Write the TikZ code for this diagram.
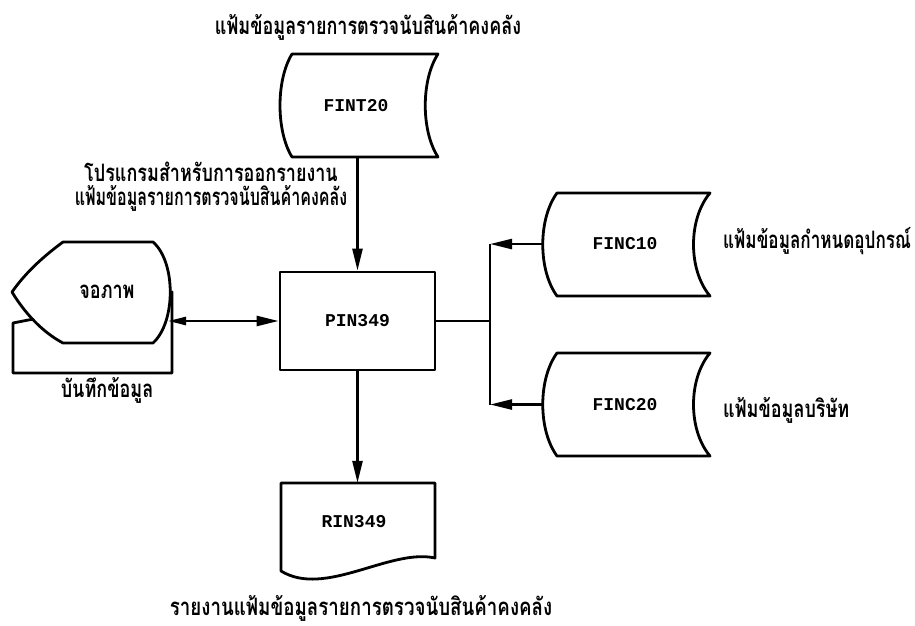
\documentclass[tikz,border=0pt]{standalone}
\usepackage{fontspec}
\usepackage{graphicx}
\newfontfamily\thaifont[Script=Thai, FakeStretch=0.75]{Loma}
\newfontfamily\codefont{Liberation Mono}
\usetikzlibrary{arrows.meta}
\newcommand\hsq[2]{\scalebox{#1}[1]{#2}}
\begin{document}
\begin{tikzpicture}[x=1pt,y=-1pt,
  shp/.style={draw=black, line width=2.8pt, line join=round},
  conn/.style={draw=black, line width=2.5pt},
  lbl/.style={font=\thaifont\bfseries\fontsize{24}{24}\selectfont, inner sep=0pt},
  code/.style={font=\codefont\bfseries\fontsize{18}{20}\selectfont, inner sep=0pt},
  tipB/.tip={Triangle[length=22pt,width=10pt]},
  tipS/.tip={Triangle[length=18pt,width=8pt]}]
\useasboundingbox[fill=white] (0,0) rectangle (915,626);

% FINT20 (stored data)
\draw[shp] (292,54) -- (438,54) .. controls (421,80) and (421,131) .. (438,157)
  -- (292,157) .. controls (276,131) and (276,80) .. (292,54) -- cycle;
\node[code, minimum height=103pt] (fint) at (356,105.5) {FINT20};

% PIN349 (process)
\node[shp, code, minimum width=155pt, minimum height=98pt] (pin) at (357.5,321) {PIN349};

% RIN349 (document)
\draw[shp] (281,483) -- (435,483) -- (435,558) .. controls (390,548) and (325,598) .. (281,571) -- cycle;
\node[code, minimum height=78pt] (rin) at (354,522) {RIN349};

% FINC10, FINC20 (stored data)
\draw[shp] (557,193) -- (710,193) .. controls (688,219) and (688,270) .. (710,296)
  -- (557,296) .. controls (538,270) and (538,219) .. (557,193) -- cycle;
\node[code, minimum width=164pt, minimum height=103pt] (fa) at (625,244) {FINC10};
\draw[shp] (557,353) -- (710,353) .. controls (688,379) and (688,430) .. (710,456)
  -- (557,456) .. controls (538,430) and (538,379) .. (557,353) -- cycle;
\node[code, minimum width=164pt, minimum height=103pt] (fb) at (625,404.5) {FINC20};

% Manual input behind display
\draw[shp, fill=white] (13,323) -- (172,292) -- (172,373) -- (13,373) -- cycle;
\coordinate (man) at (92,348);
% Display
\draw[shp, fill=white] (63,242) -- (153,242) .. controls (176,262) and (176,322) .. (153,343)
  -- (63,343) .. controls (42,332) and (24,312) .. (12,292)
  .. controls (26,272) and (44,256) .. (63,242) -- cycle;
\node[lbl] (disp) at (107,292) {จอภาพ};
\coordinate (dispR) at (168,321);

% connectors
\draw[conn, -{tipB}] (pin.north |- fint.south) -- (pin.north);
\draw[conn, -{tipB}] (pin.south) -- (pin.south |- rin.north);
\draw[conn, {tipS}-{tipB}] (dispR) -- (pin.west);
\coordinate (jn) at (490,321);
\draw[conn] (pin.east) -- (jn);
\draw[conn] (jn |- fa.west) -- (jn |- fb.west);
\draw[conn, -{tipB}] (fa.west) -- (jn |- fa.west);
\draw[conn, -{tipB}] (fb.west) -- (jn |- fb.west);

% labels
\node[lbl] (t1) at (368,27) {แฟ้มข้อมูลรายการตรวจนับสินค้าคงคลัง};
\node[lbl, align=center] (t2) at (211,187) {โปรแกรมสำหรับการออกรายงาน\\\hsq{0.89}{แฟ้มข้อมูลรายการตรวจนับสินค้าคงคลัง}};
\node[lbl] (t3) at (107,390) {บันทึกข้อมูล};
\node[lbl, anchor=west] (t4) at (723,241) {\hsq{0.95}{แฟ้มข้อมูลกำหนดอุปกรณ์}};
\node[lbl, anchor=west] (t5) at (723,410) {แฟ้มข้อมูลบริษัท};
\node[lbl] (t6) at (361,608) {\hsq{1.04}{รายงานแฟ้มข้อมูลรายการตรวจนับสินค้าคงคลัง}};
\end{tikzpicture}
\end{document}
